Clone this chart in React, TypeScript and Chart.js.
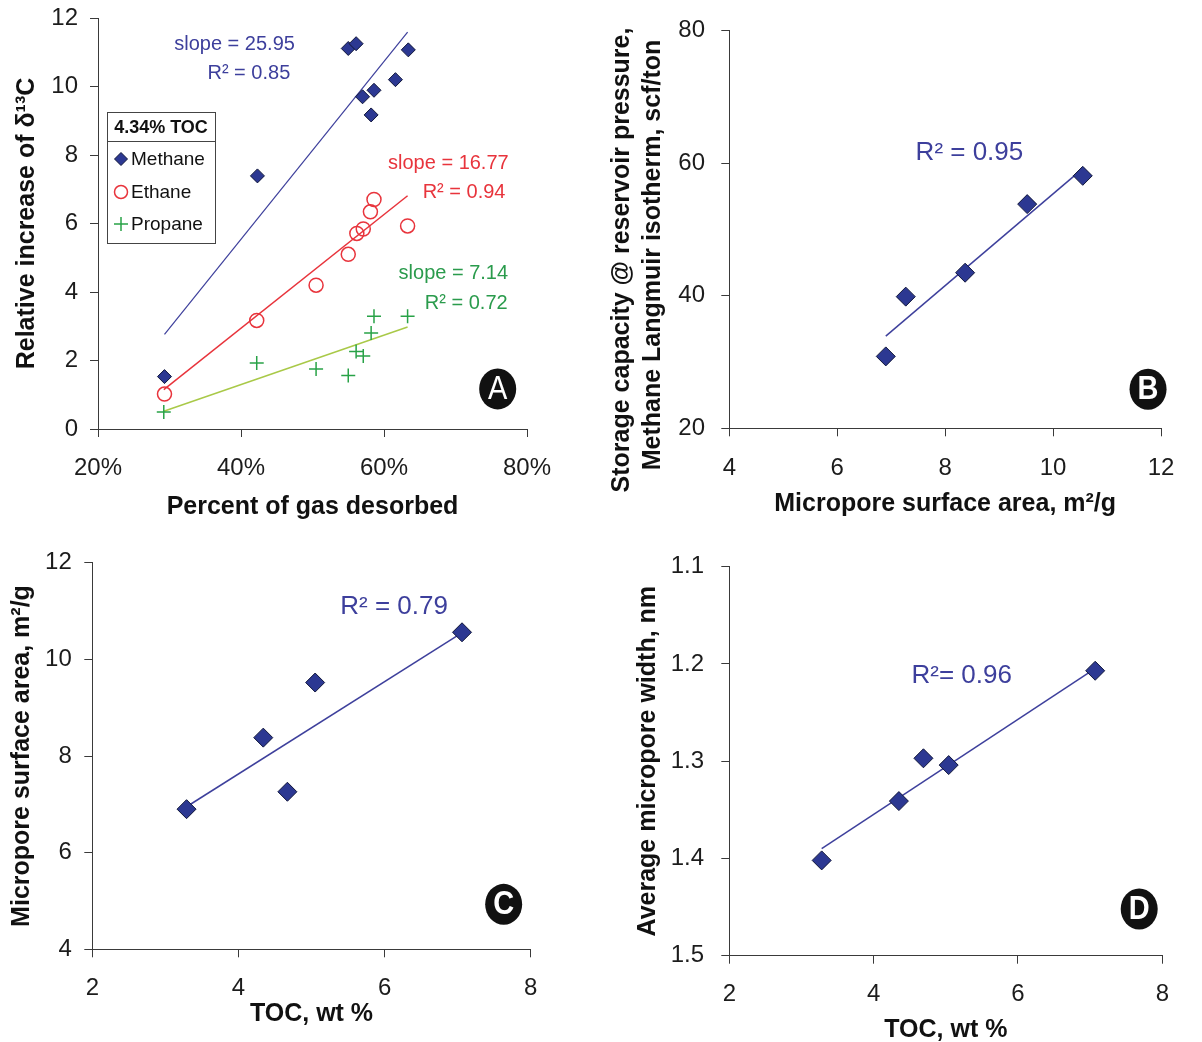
import React, { useEffect, useRef } from 'react';
import { Chart, registerables } from 'chart.js';

Chart.register(...registerables);

const FONT = '"Liberation Sans", Arial, Helvetica, sans-serif';
const AXIS = '#3a3a3a';
const TICK_TEXT = '#1c1c1c';
const TITLE_TEXT = '#111111';
const NAVY = '#2c3892';
const NAVY_EDGE = '#10163a';
const NAVY_LINE = '#3e409c';
const NAVY_TEXT = '#3d3f9c';
const RED = '#e8343c';
const GREEN = '#28a247';
const GREEN_TEXT = '#2a9b4c';
const LIME = '#a9c948';

// ---------------- Panel A data ----------------
const aXTicks = [20, 40, 60, 80];
const aXTickLabels = ['20%', '40%', '60%', '80%'];
const aYTicks = [0, 2, 4, 6, 8, 10, 12];
const aYTickLabels = ['0', '2', '4', '6', '8', '10', '12'];
const aLegendTitle = '4.34% TOC';
const aSeriesNames = ['Methane', 'Ethane', 'Propane'];
const aMethaneX = [29.3, 42.3, 55.0, 56.1, 57.0, 58.6, 58.2, 61.6, 63.4];
const aMethaneY = [1.53, 7.39, 11.11, 11.25, 9.7, 9.89, 9.17, 10.2, 11.07];
const aEthaneX = [29.3, 42.2, 50.5, 55.0, 56.2, 57.1, 58.1, 58.6, 63.3];
const aEthaneY = [1.02, 3.17, 4.2, 5.1, 5.71, 5.84, 6.34, 6.7, 5.93];
const aPropaneX = [29.2, 42.2, 50.5, 55.0, 56.1, 57.1, 58.2, 58.6, 63.3];
const aPropaneY = [0.5, 1.93, 1.75, 1.56, 2.26, 2.13, 2.8, 3.29, 3.29];
const aMethaneFitX = [29.3, 63.3];
const aMethaneFitY = [2.76, 11.59];
const aEthaneFitX = [29.2, 63.3];
const aEthaneFitY = [1.15, 6.81];
const aPropaneFitX = [29.2, 63.3];
const aPropaneFitY = [0.52, 2.98];
const aSlopeLabels = ['slope = 25.95', 'slope = 16.77', 'slope = 7.14'];
const aR2Labels = ['R\u00B2 = 0.85', 'R\u00B2 = 0.94', 'R\u00B2 = 0.72'];

// ---------------- Panel B data ----------------
const bXTicks = [4, 6, 8, 10, 12];
const bXTickLabels = ['4', '6', '8', '10', '12'];
const bYTicks = [20, 40, 60, 80];
const bYTickLabels = ['20', '40', '60', '80'];
const bSurfaceArea = [6.9, 7.27, 8.37, 9.52, 10.55];
const bStorage = [30.85, 39.87, 43.48, 53.83, 58.1];
const bFitX = [6.9, 10.43];
const bFitY = [33.9, 58.36];
const bR2Label = 'R\u00B2 = 0.95';
const bYTitleLines = ['Storage capacity @ reservoir pressure,', 'Methane Langmuir isotherm, scf/ton'];

// ---------------- Panel C data ----------------
const cXTicks = [2, 4, 6, 8];
const cXTickLabels = ['2', '4', '6', '8'];
const cYTicks = [4, 6, 8, 10, 12];
const cYTickLabels = ['4', '6', '8', '10', '12'];
const cToc = [3.29, 4.34, 4.67, 5.05, 7.06];
const cSurfaceArea = [6.9, 8.38, 7.26, 9.52, 10.56];
const cFitX = [3.29, 7.03];
const cFitY = [6.95, 10.52];
const cR2Label = 'R\u00B2 = 0.79';

// ---------------- Panel D data ----------------
const dXTicks = [2, 4, 6, 8];
const dXTickLabels = ['2', '4', '6', '8'];
const dYTicks = [1.1, 1.2, 1.3, 1.4, 1.5];
const dYTickLabels = ['1.1', '1.2', '1.3', '1.4', '1.5'];
const dToc = [3.28, 4.35, 4.69, 5.04, 7.07];
const dPoreWidth = [1.402, 1.341, 1.297, 1.304, 1.207];
const dFitX = [3.28, 7.02];
const dFitY = [1.39, 1.207];
const dR2Label = 'R\u00B2= 0.96';

// ---------------- helpers ----------------
const pts = (xs: number[], ys: number[]) => xs.map((x, i) => ({ x, y: ys[i] }));

const diamondSet = (label: string, xs: number[], ys: number[], r: number) => ({
  label,
  data: pts(xs, ys),
  showLine: false,
  pointStyle: 'rectRot',
  pointRadius: r,
  pointHoverRadius: r,
  pointBackgroundColor: NAVY,
  pointBorderColor: NAVY_EDGE,
  pointBorderWidth: 1,
});

const fitSet = (label: string, xs: number[], ys: number[], color: string, w: number) => ({
  label,
  data: pts(xs, ys),
  showLine: true,
  pointRadius: 0,
  pointHoverRadius: 0,
  borderColor: color,
  borderWidth: w,
  fill: false,
  tension: 0,
});

type Note = { text: string; x: number; y: number; color: string; size: number };
type Overlay = {
  notes: Note[];
  badge: { letter: string; x: number; y: number; bold: boolean };
  legend?: { title: string; names: string[] };
  sideTitle?: { lines: string[]; xs: number[]; ys: number[]; size: number };
};

function makeOverlay(ov: Overlay) {
  return {
    id: 'panelOverlay',
    afterDatasetsDraw(chart: any) {
      const ctx: CanvasRenderingContext2D = chart.ctx;
      const sx = chart.scales.x;
      const sy = chart.scales.y;
      ctx.save();
      ctx.textBaseline = 'middle';
      ctx.textAlign = 'center';
      for (const n of ov.notes) {
        ctx.font = `${n.size}px ${FONT}`;
        ctx.fillStyle = n.color;
        ctx.fillText(n.text, sx.getPixelForValue(n.x), sy.getPixelForValue(n.y));
      }
      // panel letter badge
      const b = ov.badge;
      const bx = sx.getPixelForValue(b.x);
      const by = sy.getPixelForValue(b.y);
      ctx.beginPath();
      ctx.ellipse(bx, by, 18.5, 20.5, 0, 0, Math.PI * 2);
      ctx.fillStyle = '#111111';
      ctx.fill();
      ctx.save();
      ctx.translate(bx, by);
      ctx.scale(1, 1.12);
      ctx.font = `${b.bold ? 'bold ' : ''}29px ${FONT}`;
      ctx.fillStyle = '#ffffff';
      ctx.fillText(b.letter, 0, 1);
      ctx.restore();

      if (ov.legend) {
        const L = chart.chartArea.left + 9;
        const T = chart.chartArea.top + 94;
        const W = 108;
        const H = 131;
        ctx.fillStyle = '#ffffff';
        ctx.fillRect(L, T, W, H);
        ctx.strokeStyle = '#444444';
        ctx.lineWidth = 1;
        ctx.strokeRect(L + 0.5, T + 0.5, W, H);
        ctx.beginPath();
        ctx.moveTo(L, T + 29.5);
        ctx.lineTo(L + W, T + 29.5);
        ctx.stroke();
        ctx.fillStyle = '#111111';
        ctx.font = `bold 18px ${FONT}`;
        ctx.textAlign = 'center';
        ctx.fillText(ov.legend.title, L + W / 2, T + 16);
        const rows = [T + 47, T + 80, T + 112];
        const mx = L + 14;
        ov.legend.names.forEach((name, i) => {
          const y = rows[i];
          ctx.save();
          if (i === 0) {
            ctx.beginPath();
            ctx.moveTo(mx - 6.5, y);
            ctx.lineTo(mx, y - 6.5);
            ctx.lineTo(mx + 6.5, y);
            ctx.lineTo(mx, y + 6.5);
            ctx.closePath();
            ctx.fillStyle = NAVY;
            ctx.fill();
            ctx.strokeStyle = NAVY_EDGE;
            ctx.lineWidth = 1;
            ctx.stroke();
          } else if (i === 1) {
            ctx.beginPath();
            ctx.arc(mx, y, 6.5, 0, Math.PI * 2);
            ctx.strokeStyle = RED;
            ctx.lineWidth = 1.5;
            ctx.stroke();
          } else {
            ctx.beginPath();
            ctx.moveTo(mx - 7, y);
            ctx.lineTo(mx + 7, y);
            ctx.moveTo(mx, y - 7);
            ctx.lineTo(mx, y + 7);
            ctx.strokeStyle = GREEN;
            ctx.lineWidth = 1.5;
            ctx.stroke();
          }
          ctx.restore();
          ctx.fillStyle = '#111111';
          ctx.font = `19px ${FONT}`;
          ctx.textAlign = 'left';
          ctx.fillText(name, L + 24, y + 1);
        });
      }

      if (ov.sideTitle) {
        const st = ov.sideTitle;
        ctx.fillStyle = TITLE_TEXT;
        ctx.font = `bold ${st.size}px ${FONT}`;
        ctx.textAlign = 'center';
        st.lines.forEach((line, i) => {
          ctx.save();
          ctx.translate(st.xs[i], st.ys[i]);
          ctx.rotate(-Math.PI / 2);
          ctx.fillText(line, 0, 0);
          ctx.restore();
        });
      }
      ctx.restore();
    },
  };
}

type Panel = {
  left: number;
  top: number;
  w: number;
  h: number;
  pad: { left: number; top: number; right: number; bottom: number };
  yWidth: number;
  xHeight: number;
  xMin: number;
  xMax: number;
  yMin: number;
  yMax: number;
  yReverse: boolean;
  xTicks: number[];
  xTickLabels: string[];
  yTicks: number[];
  yTickLabels: string[];
  xTickPad: number;
  yTickPad: number;
  xTitle: string;
  xTitlePad: number;
  yTitle: string | null;
  yTitlePad: number;
  datasets: any[];
  overlay: Overlay;
};

function buildConfig(p: Panel): any {
  const grid = {
    display: true,
    drawOnChartArea: false,
    drawTicks: true,
    tickLength: 8,
    color: AXIS,
    lineWidth: 1,
  };
  const border = { display: true, color: AXIS, width: 1 };
  return {
    type: 'scatter',
    data: { datasets: p.datasets },
    options: {
      responsive: false,
      maintainAspectRatio: false,
      animation: false,
      events: [],
      layout: { padding: p.pad },
      plugins: {
        legend: { display: false },
        tooltip: { enabled: false },
        title: { display: false },
      },
      scales: {
        x: {
          type: 'linear',
          position: 'bottom',
          min: p.xMin,
          max: p.xMax,
          afterBuildTicks: (s: any) => {
            s.ticks = p.xTicks.map((v) => ({ value: v }));
          },
          afterFit: (s: any) => {
            s.height = p.xHeight;
            s.paddingLeft = 0;
            s.paddingRight = 0;
          },
          grid,
          border,
          ticks: {
            autoSkip: false,
            maxRotation: 0,
            padding: p.xTickPad,
            color: TICK_TEXT,
            font: { family: FONT, size: 24 },
            callback: (_v: any, i: number) => p.xTickLabels[i],
          },
          title: {
            display: true,
            text: p.xTitle,
            color: TITLE_TEXT,
            font: { family: FONT, size: 25, weight: 'bold' },
            padding: { top: 0, bottom: p.xTitlePad },
          },
        },
        y: {
          type: 'linear',
          position: 'left',
          min: p.yMin,
          max: p.yMax,
          reverse: p.yReverse,
          afterBuildTicks: (s: any) => {
            s.ticks = p.yTicks.map((v) => ({ value: v }));
          },
          afterFit: (s: any) => {
            s.width = p.yWidth;
            s.paddingTop = 0;
            s.paddingBottom = 0;
          },
          grid,
          border,
          ticks: {
            autoSkip: false,
            padding: p.yTickPad,
            color: TICK_TEXT,
            font: { family: FONT, size: 24 },
            callback: (_v: any, i: number) => p.yTickLabels[i],
          },
          title: {
            display: !!p.yTitle,
            text: p.yTitle || '',
            color: TITLE_TEXT,
            font: { family: FONT, size: 25, weight: 'bold' },
            padding: { top: p.yTitlePad, bottom: 0 },
          },
        },
      },
    },
    plugins: [makeOverlay(p.overlay)],
  };
}

const panelA: Panel = {
  left: 0,
  top: 0,
  w: 600,
  h: 535,
  pad: { left: 0, top: 18, right: 73, bottom: 0 },
  yWidth: 98,
  xHeight: 106,
  xMin: 20,
  xMax: 80,
  yMin: 0,
  yMax: 12,
  yReverse: false,
  xTicks: aXTicks,
  xTickLabels: aXTickLabels,
  yTicks: aYTicks,
  yTickLabels: aYTickLabels,
  xTickPad: 16.6,
  yTickPad: 12,
  xTitle: 'Percent of gas desorbed',
  xTitlePad: 13,
  yTitle: 'Relative increase of \u03B4\u00B9\u00B3C',
  yTitlePad: 12,
  datasets: [
    diamondSet(aSeriesNames[0], aMethaneX, aMethaneY, 7),
    {
      label: aSeriesNames[1],
      data: pts(aEthaneX, aEthaneY),
      showLine: false,
      pointStyle: 'circle',
      pointRadius: 7,
      pointHoverRadius: 7,
      pointBackgroundColor: 'rgba(255,255,255,0)',
      pointBorderColor: RED,
      pointBorderWidth: 1.5,
    },
    {
      label: aSeriesNames[2],
      data: pts(aPropaneX, aPropaneY),
      showLine: false,
      pointStyle: 'cross',
      pointRadius: 7,
      pointHoverRadius: 7,
      pointBorderColor: GREEN,
      pointBorderWidth: 1.5,
    },
    fitSet('Methane fit', aMethaneFitX, aMethaneFitY, NAVY_LINE, 1.2),
    fitSet('Ethane fit', aEthaneFitX, aEthaneFitY, RED, 1.5),
    fitSet('Propane fit', aPropaneFitX, aPropaneFitY, LIME, 1.5),
  ],
  overlay: {
    notes: [
      { text: aSlopeLabels[0], x: 39.1, y: 11.22, color: NAVY_TEXT, size: 20 },
      { text: aR2Labels[0], x: 41.1, y: 10.39, color: NAVY_TEXT, size: 20 },
      { text: aSlopeLabels[1], x: 69.0, y: 7.76, color: RED, size: 20 },
      { text: aR2Labels[1], x: 71.2, y: 6.92, color: RED, size: 20 },
      { text: aSlopeLabels[2], x: 69.7, y: 4.53, color: GREEN_TEXT, size: 20 },
      { text: aR2Labels[2], x: 71.5, y: 3.67, color: GREEN_TEXT, size: 20 },
    ],
    badge: { letter: 'A', x: 75.9, y: 1.17, bold: false },
    legend: { title: aLegendTitle, names: aSeriesNames },
  },
};

const panelB: Panel = {
  left: 600,
  top: 0,
  w: 602,
  h: 535,
  pad: { left: 0, top: 30.7, right: 41, bottom: 0 },
  yWidth: 129.3,
  xHeight: 106.7,
  xMin: 4,
  xMax: 12,
  yMin: 20,
  yMax: 80,
  yReverse: false,
  xTicks: bXTicks,
  xTickLabels: bXTickLabels,
  yTicks: bYTicks,
  yTickLabels: bYTickLabels,
  xTickPad: 18,
  yTickPad: 16.3,
  xTitle: 'Micropore surface area, m\u00B2/g',
  xTitlePad: 16,
  yTitle: null,
  yTitlePad: 0,
  datasets: [
    diamondSet('Storage capacity', bSurfaceArea, bStorage, 9.5),
    fitSet('Fit', bFitX, bFitY, NAVY_LINE, 1.5),
  ],
  overlay: {
    notes: [{ text: bR2Label, x: 8.45, y: 61.6, color: NAVY_TEXT, size: 26 }],
    badge: { letter: 'B', x: 11.76, y: 25.9, bold: true },
    sideTitle: { lines: bYTitleLines, xs: [22, 53], ys: [260, 255], size: 25 },
  },
};

const panelC: Panel = {
  left: 0,
  top: 535,
  w: 600,
  h: 507,
  pad: { left: 0, top: 27.7, right: 69.3, bottom: 0 },
  yWidth: 92.3,
  xHeight: 92.7,
  xMin: 2,
  xMax: 8,
  yMin: 4,
  yMax: 12,
  yReverse: false,
  xTicks: cXTicks,
  xTickLabels: cXTickLabels,
  yTicks: cYTicks,
  yTickLabels: cYTickLabels,
  xTickPad: 17,
  yTickPad: 12.5,
  xTitle: 'TOC, wt %',
  xTitlePad: 13.3,
  yTitle: 'Micropore surface area, m\u00B2/g',
  yTitlePad: 6.7,
  datasets: [
    diamondSet('Micropore surface area', cToc, cSurfaceArea, 9.5),
    fitSet('Fit', cFitX, cFitY, NAVY_LINE, 1.5),
  ],
  overlay: {
    notes: [{ text: cR2Label, x: 6.13, y: 11.09, color: NAVY_TEXT, size: 26 }],
    badge: { letter: 'C', x: 7.63, y: 4.93, bold: true },
  },
};

const panelD: Panel = {
  left: 600,
  top: 535,
  w: 602,
  h: 515,
  pad: { left: 0, top: 31.7, right: 39.7, bottom: 0 },
  yWidth: 129.3,
  xHeight: 94.3,
  xMin: 2,
  xMax: 8,
  yMin: 1.1,
  yMax: 1.5,
  yReverse: true,
  xTicks: dXTicks,
  xTickLabels: dXTickLabels,
  yTicks: dYTicks,
  yTickLabels: dYTickLabels,
  xTickPad: 16.2,
  yTickPad: 17.3,
  xTitle: 'TOC, wt %',
  xTitlePad: 5,
  yTitle: 'Average micropore width, nm',
  yTitlePad: 33.5,
  datasets: [
    diamondSet('Average micropore width', dToc, dPoreWidth, 9.5),
    fitSet('Fit', dFitX, dFitY, NAVY_LINE, 1.5),
  ],
  overlay: {
    notes: [{ text: dR2Label, x: 5.22, y: 1.212, color: NAVY_TEXT, size: 26 }],
    badge: { letter: 'D', x: 7.68, y: 1.452, bold: true },
  },
};

function PanelChart({ panel }: { panel: Panel }) {
  const ref = useRef<HTMLCanvasElement | null>(null);
  useEffect(() => {
    if (!ref.current) return;
    const chart = new Chart(ref.current, buildConfig(panel));
    return () => chart.destroy();
  }, [panel]);
  return (
    <canvas
      ref={ref}
      width={panel.w}
      height={panel.h}
      style={{
        position: 'absolute',
        left: panel.left,
        top: panel.top,
        width: panel.w,
        height: panel.h,
      }}
    />
  );
}

export default function App() {
  return (
    <div
      style={{
        position: 'absolute',
        left: 0,
        top: 0,
        width: 1202,
        height: 1042,
        background: '#ffffff',
        overflow: 'hidden',
      }}
    >
      <PanelChart panel={panelA} />
      <PanelChart panel={panelB} />
      <PanelChart panel={panelC} />
      <PanelChart panel={panelD} />
    </div>
  );
}
